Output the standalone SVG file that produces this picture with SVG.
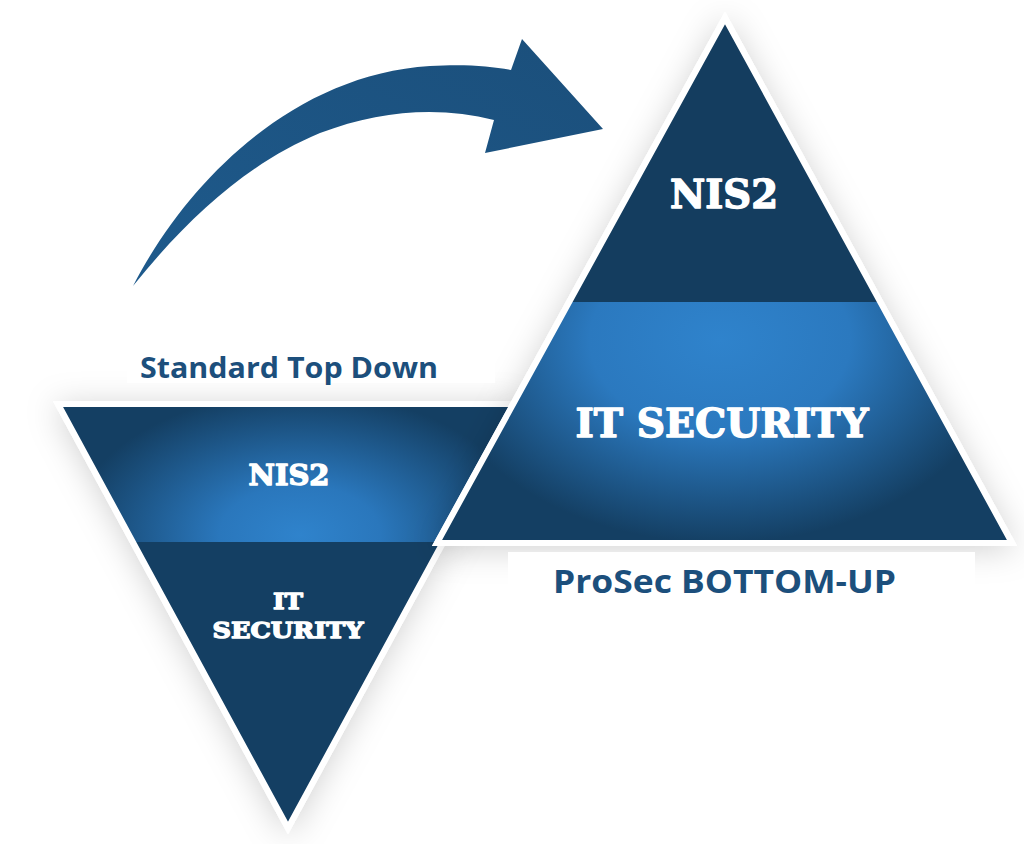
<svg xmlns="http://www.w3.org/2000/svg" width="1024" height="844" viewBox="0 0 1024 844">
<style>
.tri{stroke:#ffffff;stroke-width:6;stroke-linejoin:miter}
.slab{font-family:"DejaVu Serif","Liberation Serif",serif;font-weight:bold;fill:#ffffff;stroke:#ffffff;stroke-width:1.4;stroke-linejoin:round;text-anchor:middle}
.lbl{font-family:"Open Sans","Liberation Sans",sans-serif;font-weight:bold;fill:#1c4f7c}
</style>
<defs>
<filter id="sh" x="-20%" y="-20%" width="140%" height="140%">
<feGaussianBlur in="SourceAlpha" stdDeviation="16"/>
<feOffset dx="0" dy="4" result="b"/>
<feFlood flood-color="#000" flood-opacity="0.18"/>
<feComposite in2="b" operator="in"/>
<feMerge><feMergeNode/><feMergeNode in="SourceGraphic"/></feMerge>
</filter>
<radialGradient id="gUp" gradientUnits="userSpaceOnUse" cx="720" cy="340" r="290" gradientTransform="translate(720 340) scale(1 0.7) translate(-720 -340)">
<stop offset="0" stop-color="#2f83cc"/>
<stop offset="0.45" stop-color="#2b79bf"/>
<stop offset="1" stop-color="#143f63"/>
</radialGradient>
<radialGradient id="gDn" gradientUnits="userSpaceOnUse" cx="300" cy="535" r="230" gradientTransform="translate(300 535) scale(1 0.62) translate(-300 -535)">
<stop offset="0" stop-color="#2f83cc"/>
<stop offset="0.35" stop-color="#2a77bc"/>
<stop offset="1" stop-color="#143f63"/>
</radialGradient>
<linearGradient id="gArr" x1="0" y1="1" x2="1" y2="0">
<stop offset="0" stop-color="#1e5a8c"/>
<stop offset="1" stop-color="#1b4f7b"/>
</linearGradient>
<clipPath id="cDn"><polygon points="58,404 518,404 288,828"/></clipPath>
<clipPath id="cUp"><polygon points="725,18 437,543 1012,543"/></clipPath>
</defs>
<rect width="1024" height="844" fill="#ffffff"/>

<g id="arrow">
<path fill="url(#gArr)" d="M133,286 C185,185 290,75 430,66 C465,64 490,66 511,70 L522,39 L603,129 L485,153 L494,120 C440,106 380,110 320,133 C250,162 190,215 133,286 Z"/>
</g>

<g id="top-down-triangle">
<polygon class="tri" points="58,404 518,404 288,828" fill="#143f63" filter="url(#sh)"/>
<g clip-path="url(#cDn)">
<rect x="50" y="404" width="480" height="138" fill="url(#gDn)"/>
<rect x="50" y="542" width="480" height="290" fill="#143f63"/>
</g>
<polygon points="58,404 518,404 288,828" fill="none" class="tri"/>
<text class="slab" x="289" y="485" font-size="27" textLength="81" lengthAdjust="spacingAndGlyphs">NIS2</text>
<text class="slab" x="288" y="609" font-size="23" textLength="30" lengthAdjust="spacingAndGlyphs">IT</text>
<text class="slab" x="288" y="638" font-size="23" textLength="151" lengthAdjust="spacingAndGlyphs">SECURITY</text>
</g>

<g id="bottom-up-triangle">
<polygon class="tri" points="725,18 437,543 1012,543" fill="#143f63" filter="url(#sh)"/>
<g clip-path="url(#cUp)">
<rect x="430" y="10" width="590" height="292" fill="#143d5f"/>
<rect x="430" y="302" width="590" height="245" fill="url(#gUp)"/>
</g>
<polygon points="725,18 437,543 1012,543" fill="none" class="tri"/>
<text class="slab" x="724" y="208" font-size="39" textLength="108" lengthAdjust="spacingAndGlyphs">NIS2</text>
<text class="slab" x="722" y="437" font-size="39" textLength="293" lengthAdjust="spacingAndGlyphs">IT SECURITY</text>
</g>

<g id="label-top-down">
<rect x="127" y="343" width="368" height="40" fill="#ffffff"/>
<text class="lbl" x="140" y="378" font-size="28" textLength="298" lengthAdjust="spacingAndGlyphs">Standard Top Down</text>
</g>

<g id="label-bottom-up">
<rect x="508" y="552" width="467" height="50" fill="#ffffff"/>
<text class="lbl" x="553" y="593" font-size="32" textLength="343" lengthAdjust="spacingAndGlyphs">ProSec BOTTOM-UP</text>
</g>
</svg>
